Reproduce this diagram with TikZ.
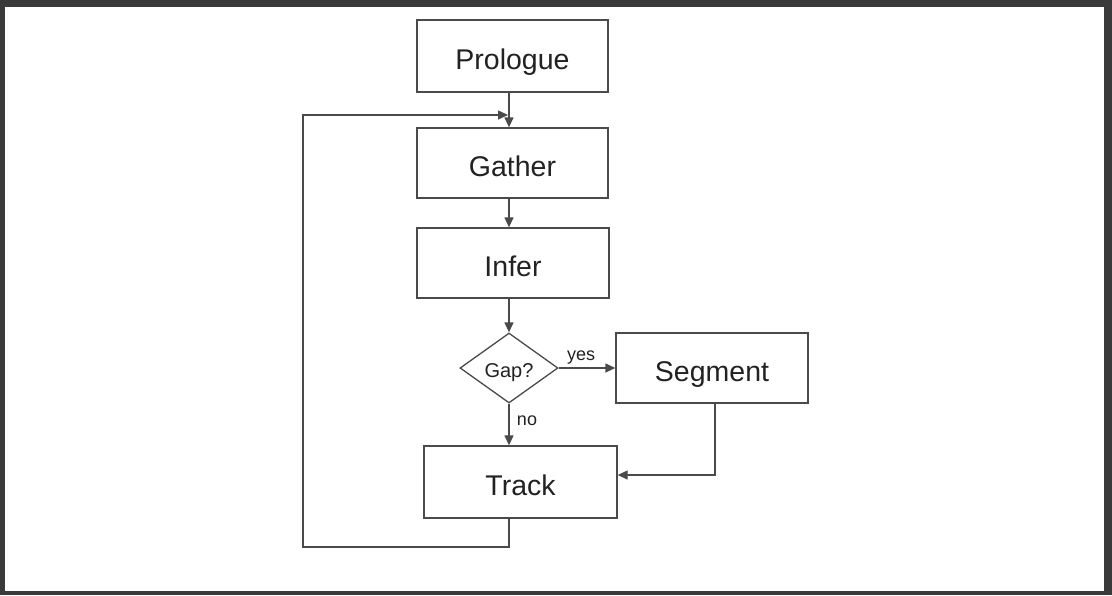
\documentclass[tikz,border=0pt]{standalone}
\usepackage{fontspec}
\setmainfont{Liberation Sans}
\usetikzlibrary{arrows.meta,shapes.geometric,calc}
\definecolor{framec}{HTML}{3A3A3A}
\definecolor{linec}{HTML}{4A4A4A}
\definecolor{textc}{HTML}{222222}
\tikzset{
  x=1pt, y=-1pt,
  box/.style={draw=linec, line width=1.3pt, fill=white, rectangle, inner sep=0pt,
    text=textc, font=\fontsize{28.5}{33}\selectfont, text height=27pt, text depth=0pt},
  decision/.style={draw=linec, line width=1.3pt, fill=white, diamond, inner sep=0pt,
    minimum width=98pt, minimum height=70pt, aspect=1.4, text=textc,
    font=\fontsize{20}{24}\selectfont, text height=18pt, text depth=0pt},
  flow/.style={draw=linec, line width=1.3pt, -{Triangle[length=10pt,width=9pt]}},
  lbl/.style={text=textc, font=\fontsize{18}{22}\selectfont, inner sep=0pt}
}
\begin{document}
\begin{tikzpicture}
\useasboundingbox (0,0) rectangle (1112,595);
\fill[framec] (0,0) rectangle (1112,595);
\fill[white] (5,7) rectangle (1104,591);

\node[box, minimum width=191pt, minimum height=72pt] (P) at (512.5,56) {Prologue};
\node[box, minimum width=191pt, minimum height=70pt] (G) at (512.5,163) {Gather};
\node[box, minimum width=192pt, minimum height=70pt] (I) at (513,263) {Infer};
\node[decision] (D) at (509,368) {Gap?};
\node[box, minimum width=192pt, minimum height=70pt] (S) at (712,368) {Segment};
\node[box, minimum width=193pt, minimum height=72pt] (T) at (520.5,482) {Track};

\node[lbl] (yes) at (581,358) {yes};
\node[lbl] (no) at (527,421) {no};

\coordinate (lb) at (303,547);
\coordinate (lt) at (303,115);
\coordinate (sc) at (715,475);

\draw[flow] (P.south -| D) -- (G.north -| D);
\draw[flow] (G.south -| D) -- (I.north -| D);
\draw[flow] (I.south -| D) -- (D.north);
\draw[flow] (D.east) -- (S.west);
\draw[flow] (D.south) -- (T.north -| D);
\draw[flow] (S.south -| sc) -- (sc) -- (T.east |- sc);
\draw[flow] (T.south -| D) -- (D |- lb) -- (lb) -- (lt) -- ([xshift=-1pt]D |- lt);
\end{tikzpicture}
\end{document}
